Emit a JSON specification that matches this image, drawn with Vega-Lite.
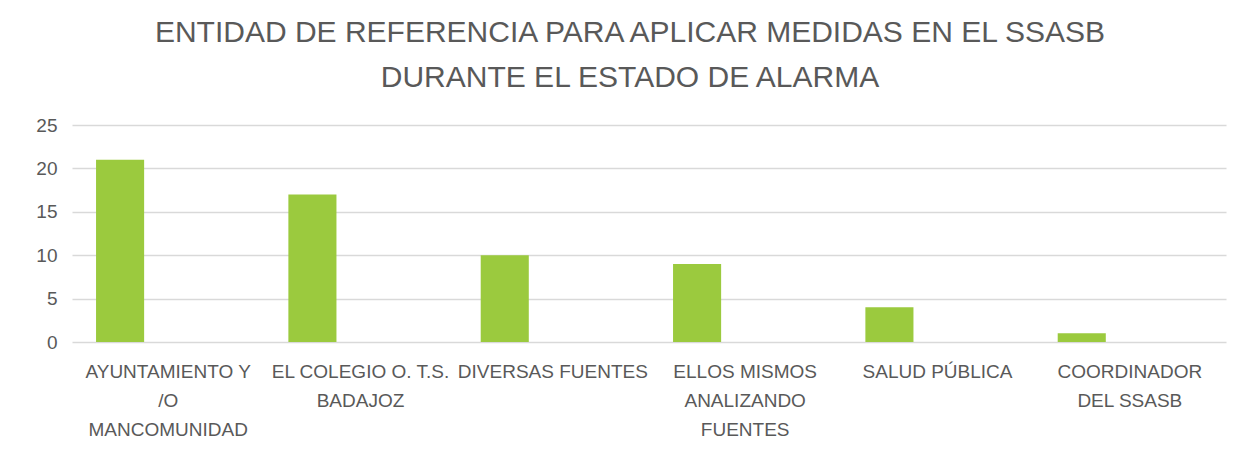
{
  "$schema": "https://vega.github.io/schema/vega-lite/v6.json",
  "autosize": {"type": "none"},
  "width": 1154,
  "height": 217,
  "padding": {"left": 72, "top": 125, "right": 30, "bottom": 121},
  "background": "white",
  "title": {
    "text": ["ENTIDAD DE REFERENCIA PARA APLICAR MEDIDAS EN EL SSASB", "DURANTE EL ESTADO DE ALARMA"],
    "font": "Liberation Sans",
    "fontSize": 30,
    "fontWeight": "normal",
    "color": "#595959",
    "anchor": "middle",
    "dx": -19,
    "lineHeight": 45,
    "offset": 23
  },
  "data": {
    "values": [
      {"entidad": "AYUNTAMIENTO Y /O MANCOMUNIDAD", "serie": "A", "valor": 21},
      {"entidad": "EL COLEGIO O. T.S. BADAJOZ", "serie": "A", "valor": 17},
      {"entidad": "DIVERSAS FUENTES", "serie": "A", "valor": 10},
      {"entidad": "ELLOS MISMOS ANALIZANDO FUENTES", "serie": "A", "valor": 9},
      {"entidad": "SALUD PÚBLICA", "serie": "A", "valor": 4},
      {"entidad": "COORDINADOR DEL SSASB", "serie": "A", "valor": 1}
    ]
  },
  "mark": {"type": "bar", "color": "#9BCA3E"},
  "encoding": {
    "x": {
      "field": "entidad",
      "type": "nominal",
      "sort": null,
      "scale": {"paddingInner": 0.25, "paddingOuter": 0.125},
      "axis": {
        "title": null,
        "labelAngle": 0,
        "ticks": false,
        "domain": false,
        "labelFont": "Liberation Sans",
        "labelFontSize": 19,
        "labelColor": "#595959",
        "labelPadding": 20,
        "labelLineHeight": 29,
        "labelLimit": 400,
        "labelOverlap": false,
        "labelBaseline": "top",
        "labelExpr": "datum.label == 'AYUNTAMIENTO Y /O MANCOMUNIDAD' ? ['AYUNTAMIENTO Y', '/O', 'MANCOMUNIDAD'] : datum.label == 'EL COLEGIO O. T.S. BADAJOZ' ? ['EL COLEGIO O. T.S.', 'BADAJOZ'] : datum.label == 'ELLOS MISMOS ANALIZANDO FUENTES' ? ['ELLOS MISMOS', 'ANALIZANDO', 'FUENTES'] : datum.label == 'COORDINADOR DEL SSASB' ? ['COORDINADOR', 'DEL SSASB'] : datum.label"
      }
    },
    "xOffset": {
      "field": "serie",
      "type": "nominal",
      "scale": {"domain": ["A", "B", "C"], "paddingInner": 0, "paddingOuter": 0}
    },
    "y": {
      "field": "valor",
      "type": "quantitative",
      "scale": {"domain": [0, 25]},
      "axis": {
        "title": null,
        "values": [0, 5, 10, 15, 20, 25],
        "ticks": false,
        "domain": false,
        "grid": true,
        "gridColor": "#D9D9D9",
        "gridWidth": 1.5,
        "labelFont": "Liberation Sans",
        "labelFontSize": 19,
        "labelColor": "#595959",
        "labelPadding": 15
      }
    }
  },
  "config": {
    "view": {"stroke": null}
  }
}
